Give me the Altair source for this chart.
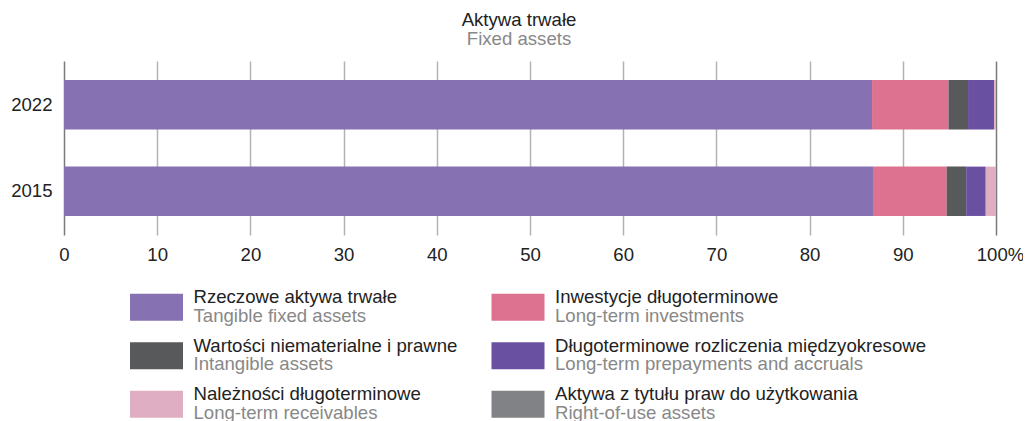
import altair as alt
import pandas as pd

# ---- data ----
years = ["2022", "2015"]
cats_pl = [
    "Rzeczowe aktywa trwałe",
    "Inwestycje długoterminowe",
    "Wartości niematerialne i prawne",
    "Długoterminowe rozliczenia międzyokresowe",
    "Należności długoterminowe",
    "Aktywa z tytułu praw do użytkowania",
]
cats_en = [
    "Tangible fixed assets",
    "Long-term investments",
    "Intangible assets",
    "Long-term prepayments and accruals",
    "Long-term receivables",
    "Right-of-use assets",
]
colors = ["#8671B2", "#DC7290", "#58595B", "#6A50A0", "#E0AEC2", "#818285"]
values_2022 = [86.7, 8.2, 2.1, 2.8, 0.2, 0.0]
values_2015 = [86.8, 7.9, 2.1, 2.1, 1.1, 0.0]
x_ticks = [0, 10, 20, 30, 40, 50, 60, 70, 80, 90, 100]

FONT = "Liberation Sans"
FS = 18.6

rows = []
for y, vals in zip(years, [values_2022, values_2015]):
    for i, (c, v) in enumerate(zip(cats_pl, vals)):
        rows.append({"year": y, "cat": c, "value": v, "idx": i})
bars_df = pd.DataFrame(rows)

leg_df = pd.DataFrame({
    "cat": cats_pl,
    "en": cats_en,
    "col": [i % 2 for i in range(len(cats_pl))],
    "row": [i // 2 for i in range(len(cats_pl))],
})

color_scale = alt.Scale(domain=cats_pl, range=colors)

bars = alt.Chart(bars_df).mark_bar().encode(
    x=alt.X("value:Q", stack="zero",
            scale=alt.Scale(domain=[0, 100], nice=False),
            axis=alt.Axis(values=x_ticks, title=None, ticks=False, domain=False,
                          labelFont=FONT, labelFontSize=FS, labelColor="#222",
                          labelPadding=10, labelFlush=False, labelBound=False,
                          labelExpr="datum.value == 100 ? '100%' : datum.label",
                          labelOffset=alt.condition("datum.value == 100",
                                                    alt.value(4), alt.value(0)),
                          grid=True,
                          gridColor=alt.condition("datum.value == 0 || datum.value == 100",
                                                  alt.value("#7a7a7a"), alt.value("#b3b3b3")),
                          gridWidth=1.5)),
    y=alt.Y("year:N", sort=years,
            scale=alt.Scale(paddingInner=0.43, paddingOuter=0.22),
            axis=alt.Axis(title=None, ticks=False, domain=False, grid=False,
                          labelFont=FONT, labelFontSize=FS, labelColor="#222",
                          labelPadding=12)),
    color=alt.Color("cat:N", scale=color_scale, legend=None),
    order=alt.Order("idx:Q"),
)

leg_x = alt.Scale(domain=[0, 1], range=[92.5, 454])
leg_y = alt.Scale(domain=[0, 2], range=[246.3, 343.3])

swatch = alt.Chart(leg_df).mark_point(
    shape="M-1,-0.51H1V0.51H-1Z", filled=True, opacity=1, size=2809, strokeWidth=0
).encode(
    x=alt.X("col:Q", scale=leg_x, axis=None),
    y=alt.Y("row:Q", scale=leg_y, axis=None),
    color=alt.Color("cat:N", scale=color_scale, legend=None),
)

txt1 = alt.Chart(leg_df).mark_text(
    align="left", baseline="alphabetic", dx=37, dy=-4,
    font=FONT, fontSize=FS, color="#222"
).encode(
    x=alt.X("col:Q", scale=leg_x, axis=None),
    y=alt.Y("row:Q", scale=leg_y, axis=None),
    text="cat:N",
)

txt2 = alt.Chart(leg_df).mark_text(
    align="left", baseline="alphabetic", dx=37, dy=14.5,
    font=FONT, fontSize=FS, color="#888"
).encode(
    x=alt.X("col:Q", scale=leg_x, axis=None),
    y=alt.Y("row:Q", scale=leg_y, axis=None),
    text="en:N",
)

chart = alt.layer(bars, swatch, txt1, txt2).resolve_scale(
    x="independent", y="independent"
).properties(
    width=932,
    height=174,
    autosize=alt.AutoSizeParams(type="none"),
    padding={"left": 56, "top": 53, "right": 27, "bottom": 190},
    title=alt.TitleParams(
        text="Aktywa trwałe", subtitle="Fixed assets",
        font=FONT, subtitleFont=FONT, fontSize=FS, subtitleFontSize=FS,
        fontWeight="normal", color="#222", subtitleColor="#888",
        anchor="middle", dx=-11, offset=12, subtitlePadding=1,
    ),
).configure_view(stroke=None)

chart.save("out.html", embed_options={"renderer": "svg", "actions": False})
